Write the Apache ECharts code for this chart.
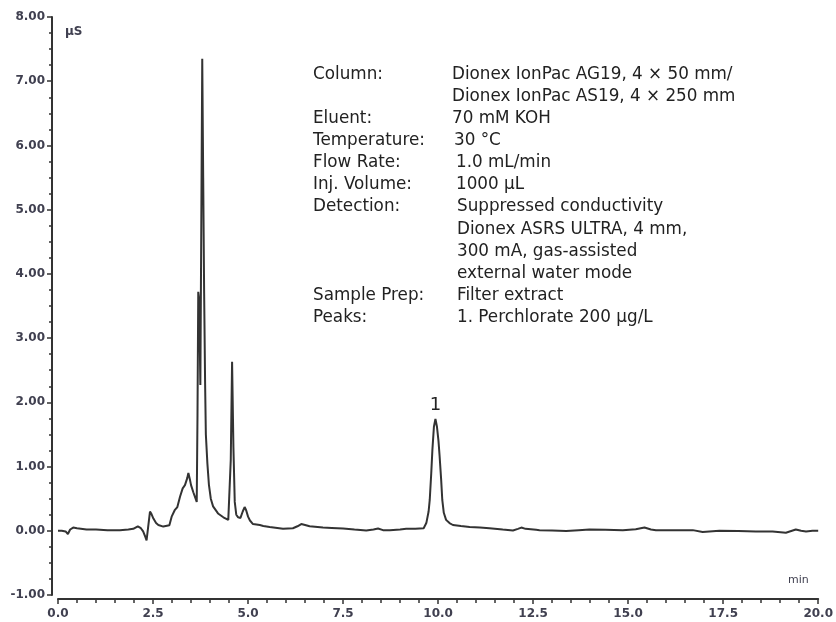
<!DOCTYPE html>
<html>
<head>
<meta charset="utf-8">
<script src="https://cdn.jsdelivr.net/npm/echarts@6/dist/echarts.min.js"></script>
<style>html,body{margin:0;padding:0;background:#fff}#c{width:836px;height:622px}</style>
</head>
<body>
<div id="c"></div>
<script>
const times = [0.00,0.10,0.20,0.26,0.32,0.40,0.50,0.75,1.00,1.30,1.63,1.85,1.98,2.10,2.18,2.24,2.30,2.33,2.37,2.42,2.46,2.51,2.58,2.64,2.77,2.93,2.99,3.07,3.14,3.21,3.28,3.34,3.40,3.43,3.47,3.50,3.56,3.62,3.65,3.67,3.69,3.715,3.745,3.77,3.795,3.82,3.845,3.87,3.89,3.93,3.97,4.02,4.08,4.21,4.35,4.48,4.51,4.545,4.58,4.615,4.65,4.69,4.74,4.80,4.86,4.91,4.95,5.00,5.05,5.13,5.31,5.40,5.57,5.92,6.18,6.30,6.40,6.50,6.62,6.97,7.20,7.50,7.80,8.11,8.30,8.42,8.55,8.73,9.00,9.16,9.40,9.62,9.69,9.75,9.78,9.82,9.85,9.89,9.93,9.97,10.01,10.04,10.08,10.11,10.15,10.21,10.30,10.39,10.60,10.83,11.10,11.35,11.70,11.97,12.10,12.19,12.30,12.58,12.67,13.00,13.37,13.70,13.98,14.40,14.86,15.20,15.43,15.60,15.73,16.20,16.70,16.96,17.40,17.90,18.36,18.80,19.15,19.41,19.55,19.68,19.85,20.00];
const signal = [0.00,0.00,-0.01,-0.05,0.02,0.05,0.04,0.02,0.02,0.01,0.01,0.02,0.03,0.07,0.04,-0.01,-0.10,-0.15,0.05,0.30,0.26,0.19,0.12,0.09,0.065,0.085,0.22,0.32,0.37,0.53,0.66,0.71,0.82,0.90,0.80,0.71,0.60,0.50,0.45,1.8,3.72,3.60,2.27,4.8,7.35,5.5,3.7,2.3,1.5,1.05,0.72,0.50,0.38,0.27,0.21,0.17,0.17,1.1,2.63,1.3,0.45,0.25,0.21,0.20,0.30,0.37,0.32,0.22,0.16,0.105,0.09,0.075,0.06,0.03,0.04,0.07,0.105,0.09,0.07,0.05,0.045,0.035,0.02,0.005,0.02,0.035,0.01,0.01,0.02,0.03,0.03,0.04,0.12,0.30,0.48,0.90,1.26,1.62,1.74,1.62,1.40,1.16,0.80,0.48,0.28,0.17,0.12,0.09,0.075,0.06,0.05,0.04,0.02,0.005,0.03,0.05,0.03,0.015,0.01,0.005,-0.005,0.01,0.02,0.015,0.01,0.025,0.05,0.02,0.01,0.01,0.01,-0.02,0.0,-0.005,-0.01,-0.01,-0.03,0.02,0.0,-0.01,0.0,0.0];
const peakLabels = ['1'];
const peakTimes = [9.93];
const peakValues = [1.74];
const infoLabels = ['Column:','','Eluent:','Temperature:','Flow Rate:','Inj. Volume:','Detection:','','','','Sample Prep:','Peaks:'];
const infoValues = ['Dionex IonPac AG19, 4 × 50 mm/','Dionex IonPac AS19, 4 × 250 mm','70 mM KOH','30 °C','1.0 mL/min','1000 µL','Suppressed conductivity','Dionex ASRS ULTRA, 4 mm,','300 mA, gas-assisted','external water mode','Filter extract','1. Perchlorate 200 µg/L'];
const infoIndent = [0,0,0,2,4,4,5,5,5,5,5,5];

const chart = echarts.init(document.getElementById('c'));
const textFont = '"DejaVu Sans", sans-serif';
const graphics = [];
infoLabels.forEach((t, i) => {
  const y = 75 + i * 22.1;
  if (t) graphics.push({type:'text', left:313, top:y-9, style:{text:t, font:'16.8px ' + textFont, fill:'#222'}});
  graphics.push({type:'text', left:452 + infoIndent[i], top:y-9, style:{text:infoValues[i], font:'16.8px ' + textFont, fill:'#222'}});
});
graphics.push({type:'text', left:65, top:26, style:{text:'µS', font:'bold 12px "DejaVu Sans", sans-serif', fill:'#404050'}});
graphics.push({type:'text', left:788, top:575, style:{text:'min', font:'11px "DejaVu Sans", sans-serif', fill:'#404050'}});

const axisFont = {fontFamily:'"DejaVu Sans", sans-serif', fontSize:12, fontWeight:'bold', color:'#404050'};

chart.setOption({
  animation:false,
  backgroundColor:'#fff',
  grid:{left:58, right:17, top:17, bottom:27, containLabel:false},
  xAxis:{
    type:'value', min:0, max:20, interval:2.5, offset:4,
    axisLine:{show:true, onZero:false, lineStyle:{color:'#333', width:2}},
    axisTick:{show:true, length:5, lineStyle:{color:'#333', width:1.5}},
    minorTick:{show:true, splitNumber:5, length:4, lineStyle:{color:'#333', width:1.5}},
    splitLine:{show:false},
    axisLabel:Object.assign({margin:9, formatter:v => v.toFixed(1)}, axisFont)
  },
  yAxis:{
    type:'value', min:-1, max:8, interval:1, offset:6,
    axisLine:{show:true, onZero:false, lineStyle:{color:'#333', width:2}},
    axisTick:{show:true, length:5, lineStyle:{color:'#333', width:1.5}},
    minorTick:{show:true, splitNumber:4, length:3, lineStyle:{color:'#333', width:1.5}},
    splitLine:{show:false},
    axisLabel:Object.assign({margin:7, formatter:v => v.toFixed(2)}, axisFont)
  },
  graphic:graphics,
  series:[{
    type:'line',
    data:times.map((t,i)=>[t, signal[i]]),
    showSymbol:false,
    smooth:false,
    lineStyle:{color:'#333', width:2},
    markPoint:{
      symbol:'circle', symbolSize:0,
      label:{show:true, position:'top', distance:5, fontSize:18, color:'#222', fontFamily:textFont, formatter:p=>p.name},
      data:peakLabels.map((n,i)=>({name:n, coord:[peakTimes[i], peakValues[i]]}))
    }
  }]
});
</script>
</body>
</html>
